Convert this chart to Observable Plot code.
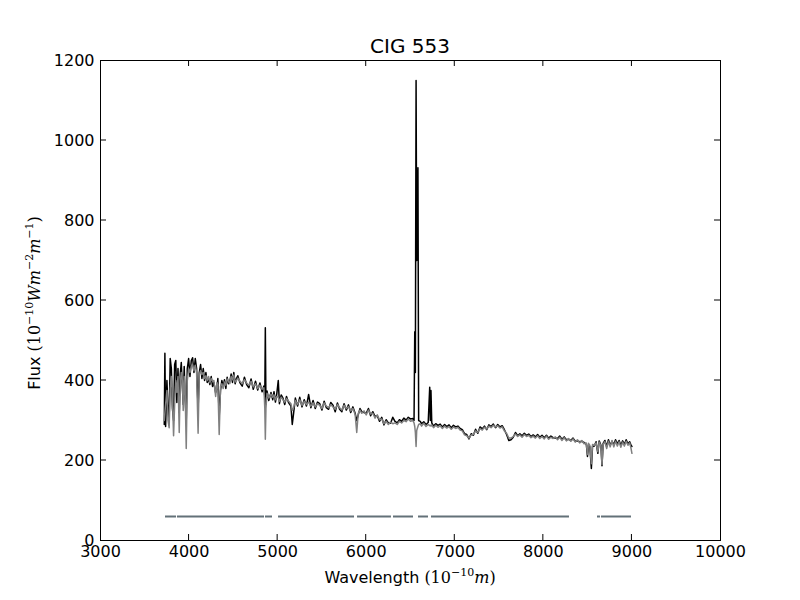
<!DOCTYPE html>
<html><head><meta charset="utf-8">
<script src="https://cdn.jsdelivr.net/npm/d3@7"></script>
<script src="https://cdn.jsdelivr.net/npm/@observablehq/plot@0.6"></script>
<style>body{margin:0;background:#fff}</style>
</head><body><div id="chart"></div>
<script>
// Wavelength grid (Angstrom)
const wavelength = [
3720,3727,3735,3750,3762,3775,3787,3800,3812,3825,
3837,3850,3862,3875,3889,3900,3912,3925,3934,3945,
3955,3968,3980,3995,4010,4025,4040,4055,4070,4085,
4102,4115,4130,4145,4160,4175,4190,4205,4220,4235,
4250,4265,4280,4300,4315,4325,4340,4355,4370,4385,
4400,4415,4430,4445,4460,4475,4490,4505,4520,4535,
4550,4575,4600,4625,4650,4675,4700,4725,4750,4775,
4800,4825,4845,4855,4861,4868,4880,4900,4925,4945,
4959,4975,4990,5007,5020,5040,5060,5080,5100,5125,
5150,5165,5180,5200,5225,5250,5275,5300,5325,5350,
5375,5400,5425,5450,5475,5500,5525,5550,5575,5600,
5625,5650,5675,5700,5725,5750,5775,5800,5825,5850,
5875,5893,5910,5930,5950,5975,6000,6025,6050,6075,
6100,6125,6150,6175,6200,6225,6250,6275,6300,6325,
6350,6375,6400,6425,6450,6475,6500,6525,6540,6548,
6555,6563,6570,6584,6592,6610,6625,6650,6675,6700,
6717,6724,6731,6740,6760,6785,6810,6835,6860,6885,
6910,6935,6960,6985,7010,7035,7060,7085,7110,7135,
7160,7185,7210,7235,7260,7285,7310,7335,7360,7385,
7410,7435,7460,7485,7510,7535,7560,7585,7610,7635,
7660,7685,7710,7735,7760,7785,7810,7835,7860,7885,
7910,7935,7960,7985,8010,8035,8060,8085,8110,8135,
8160,8185,8210,8235,8260,8285,8310,8335,8360,8385,
8410,8435,8460,8485,8498,8510,8525,8542,8555,8575,
8595,8615,8630,8650,8662,8675,8695,8715,8735,8755,
8775,8795,8815,8835,8855,8875,8895,8915,8935,8955,
8975,8990,9000];

// Observed spectrum (black)
const observedFlux = [
290,468,285,400,330,300,455,430,330,300,
440,450,345,430,320,415,445,380,340,435,
360,300,430,455,410,450,457,420,455,430,
330,420,440,405,430,400,420,395,405,390,
410,385,395,370,380,405,310,375,400,385,
402,380,408,392,398,416,395,420,392,405,
412,394,386,408,390,382,404,378,398,376,
394,372,386,360,532,340,374,350,370,352,
372,346,366,400,342,364,356,340,360,344,
336,290,318,356,336,358,334,352,336,365,
332,350,330,346,342,326,348,332,328,345,
338,322,344,328,322,342,326,339,320,334,
318,300,314,330,322,320,318,330,312,322,
310,312,298,308,289,302,294,293,308,298,
294,302,298,306,301,308,304,305,300,522,
420,1150,700,932,300,298,292,297,290,295,
383,300,375,294,286,292,288,291,284,290,
285,289,282,288,284,286,280,277,267,265,
254,267,263,278,268,284,279,286,277,289,
285,291,282,290,284,287,277,265,250,252,
258,270,262,267,262,268,263,266,260,264,
259,265,258,263,257,263,256,261,257,256,
255,261,253,259,252,253,250,256,248,249,
247,248,245,241,210,239,234,180,235,236,
247,218,249,238,187,243,250,235,252,238,
248,240,252,242,250,238,249,240,252,242,
247,238,235];

// Model spectrum (gray)
const modelFlux = [
300,320,340,375,300,282,380,410,360,262,
340,400,370,410,270,390,420,400,325,410,
380,230,400,430,420,435,440,425,438,420,
268,415,425,415,420,405,412,400,410,395,
405,398,400,360,395,390,265,385,392,380,
396,388,404,398,392,410,402,414,396,400,
406,398,392,402,394,388,398,384,392,380,
388,378,382,330,253,330,368,356,366,358,
364,352,360,358,348,358,352,346,355,348,
342,325,332,350,340,352,338,348,340,346,
336,344,334,342,338,330,344,336,332,340,
334,328,340,332,326,338,330,335,324,330,
315,270,318,326,318,324,314,326,316,318,
306,314,302,304,292,298,290,296,292,294,
290,298,294,300,297,304,298,300,294,285,
270,235,275,285,290,292,286,293,285,290,
287,288,286,289,282,288,283,287,280,286,
281,285,278,284,280,283,276,274,264,262,
256,264,265,274,270,280,276,283,279,286,
282,288,284,287,281,284,274,268,256,256,
260,266,260,264,258,265,260,263,257,261,
256,262,255,260,254,261,253,258,255,259,
252,258,250,257,249,255,248,254,246,252,
244,250,242,244,215,243,238,192,240,238,
244,222,246,236,190,240,247,230,248,234,
250,234,248,236,247,233,246,236,248,238,
244,230,218];

// Fitting-mask segments (Angstrom)
const maskStart = [3734,3869,4863,5010,5902,6308,6590,6737,8611,8656];
const maskEnd   = [3858,4852,4942,5868,6285,6534,6703,8295,8645,8995];
const maskLevel = 60;

const xTicks = [3000,4000,5000,6000,7000,8000,9000,10000];
const yTicks = [0,200,400,600,800,1000,1200];

const obs = wavelength.map((w, i) => ({w, f: observedFlux[i]}));
const model = wavelength.map((w, i) => ({w, f: modelFlux[i]}));
const mask = maskStart.map((s, i) => ({s, e: maskEnd[i], y: maskLevel}));

const plot = Plot.plot({
  width: 800, height: 600,
  marginLeft: 100, marginRight: 80, marginTop: 60, marginBottom: 60,
  style: {fontFamily: "DejaVu Sans", fontSize: "16px", background: "white", color: "black"},
  x: {domain: [3000, 10000]},
  y: {domain: [0, 1200]},
  marks: [
    Plot.ruleY(mask, {x1: "s", x2: "e", y: "y", stroke: "#637178", strokeWidth: 2}),
    Plot.line(obs, {x: "w", y: "f", stroke: "black", strokeWidth: 1.5}),
    Plot.line(model, {x: "w", y: "f", stroke: "#808080", strokeWidth: 1.5}),
    Plot.frame({stroke: "black", strokeWidth: 1}),
    Plot.axisX(xTicks, {tickSize: 0, tickPadding: 5, label: null, tickFormat: d => String(d)}),
    Plot.axisY(yTicks, {tickSize: 0, tickPadding: 6, label: null, tickFormat: d => String(d)})
  ]
});
document.getElementById("chart").appendChild(plot);

const sx = plot.scale("x"), sy = plot.scale("y");
const svg = d3.select(plot);
const x0 = sx.apply(3000), x1 = sx.apply(10000), y0 = sy.apply(0), y1 = sy.apply(1200);
const tk = svg.append("g").attr("stroke", "black").attr("stroke-width", 1);
const T = 6;
for (const t of xTicks.slice(1, -1)) {
  const x = sx.apply(t);
  tk.append("line").attr("x1", x).attr("x2", x).attr("y1", y0).attr("y2", y0 - T);
  tk.append("line").attr("x1", x).attr("x2", x).attr("y1", y1).attr("y2", y1 + T);
}
for (const t of yTicks.slice(1, -1)) {
  const y = sy.apply(t);
  tk.append("line").attr("x1", x0).attr("x2", x0 + T).attr("y1", y).attr("y2", y);
  tk.append("line").attr("x1", x1).attr("x2", x1 - T).attr("y1", y).attr("y2", y);
}

// Title
svg.append("text").attr("x", (x0 + x1) / 2).attr("y", 53)
  .attr("text-anchor", "middle").attr("font-size", 20).attr("fill", "black")
  .attr("font-family", "DejaVu Sans").text("CIG 553");

function sup(t, s) {
  t.append("tspan").attr("font-size", 11).attr("dy", -7).attr("font-family", "DejaVu Serif").text(s);
}
// X label
const xl = svg.append("text").attr("x", (x0 + x1) / 2).attr("y", 583)
  .attr("text-anchor", "middle").attr("font-size", 16).attr("fill", "black");
xl.append("tspan").attr("font-family", "DejaVu Sans").text("Wavelength ");
xl.append("tspan").attr("font-family", "DejaVu Serif").text("(10");
sup(xl, "\u221210");
xl.append("tspan").attr("dy", 7).attr("font-family", "DejaVu Serif").attr("font-style", "italic").text("m");
xl.append("tspan").attr("font-family", "DejaVu Serif").text(")");

// Y label
const yl = svg.append("text").attr("transform", `translate(40,${(y0 + y1) / 2 + 3}) rotate(-90)`)
  .attr("text-anchor", "middle").attr("font-size", 16).attr("fill", "black");
yl.append("tspan").attr("font-family", "DejaVu Sans").text("Flux ");
yl.append("tspan").attr("font-family", "DejaVu Serif").text("(10");
sup(yl, "\u221210");
yl.append("tspan").attr("dy", 7).attr("font-family", "DejaVu Serif").attr("font-style", "italic").text("Wm");
sup(yl, "\u22122");
yl.append("tspan").attr("dy", 7).attr("font-family", "DejaVu Serif").attr("font-style", "italic").text("m");
sup(yl, "\u22121");
yl.append("tspan").attr("dy", 7).attr("font-family", "DejaVu Serif").text(")");
</script>
</body></html>
